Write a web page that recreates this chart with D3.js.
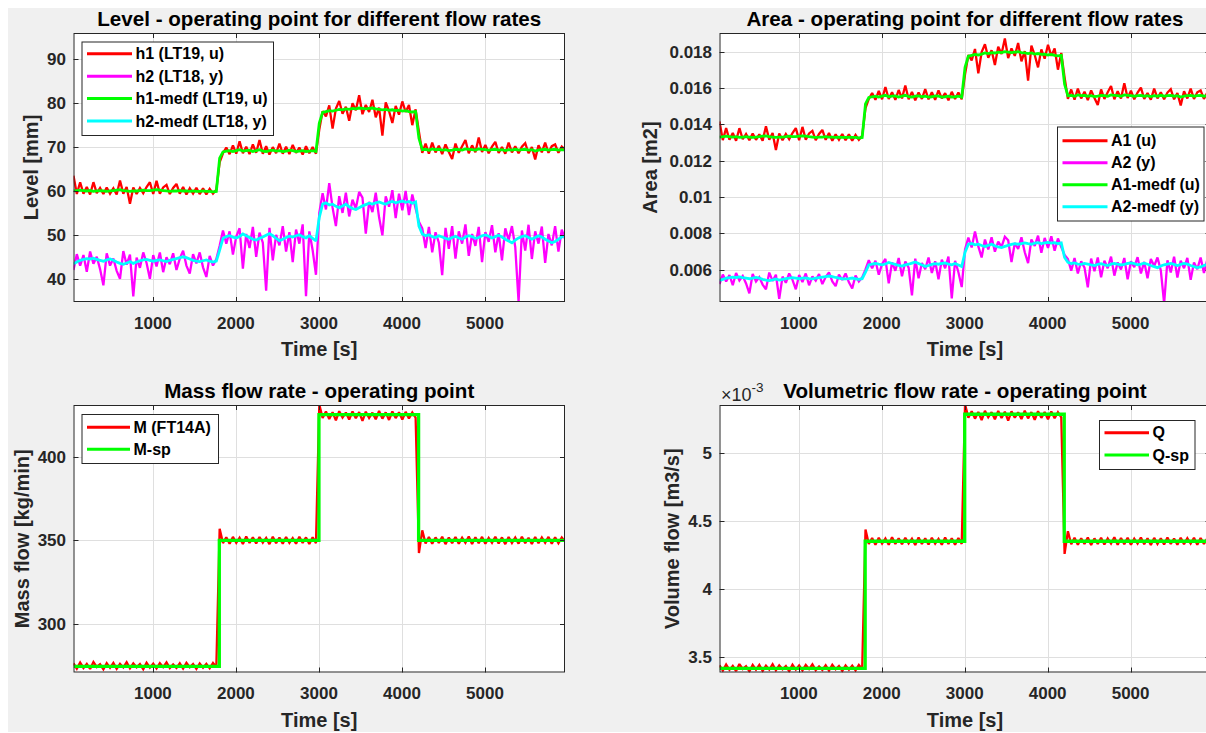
<!DOCTYPE html>
<html>
<head>
<meta charset="utf-8">
<script src="https://cdn.jsdelivr.net/npm/d3@7"></script>
<style>
  html, body { margin: 0; padding: 0; background: #ffffff; }
  svg { display: block; }
  text { font-family: "Liberation Sans", Arial, Helvetica, sans-serif; }
</style>
</head>
<body>
<svg id="fig" width="1206" height="733"></svg>
<script>
// ---- sample times of the logged signals (s) ----
const sampleTime = d3.range(44, 5965, 40);

// ---- tank levels (mm) ----
const h1Level = [
  63.5,59.3,62.0,59.4,60.9,59.2,62.0,59.5,60.7,59.3,
  60.8,59.4,60.6,59.2,62.4,59.4,60.9,57.1,60.8,59.3,
  60.7,59.5,60.9,62.0,59.3,62.3,59.4,60.8,61.4,59.3,
  60.7,61.6,59.4,60.9,59.2,60.6,59.4,60.7,59.3,60.6,
  59.2,60.5,59.4,60.3,
  66.5,68.6,69.9,68.4,70.4,68.5,71.3,68.6,70.1,68.4,
  70.6,68.7,71.6,68.5,70.2,68.3,70.0,68.6,70.8,68.5,
  70.1,68.4,70.5,68.7,69.9,68.3,70.2,68.6,70.0,68.5,
  74.0,78.2,77.0,79.5,74.2,78.8,80.5,77.6,79.2,76.0,
  80.0,78.4,81.8,77.5,79.6,78.0,80.8,76.8,79.0,72.6,
  80.2,78.2,75.5,79.4,77.4,80.4,78.0,79.6,75.0,78.6,
  73.5,68.7,70.8,68.5,71.0,68.8,70.3,68.4,70.6,68.9,
  67.3,70.8,68.7,70.2,71.6,68.6,70.4,68.8,72.2,68.9,
  70.5,68.6,70.1,71.2,68.7,70.0,68.5,71.0,68.8,70.2,
  68.6,70.1,70.9,68.6,70.0,67.2,70.4,68.8,71.0,68.7,
  70.2,70.6,68.7,70.1,69.4
];
const h2Level = [
  42.0,45.6,43.0,45.4,41.6,46.2,43.4,45.0,42.2,38.5,
  45.8,43.0,44.6,41.8,40.0,46.3,43.2,45.5,36.0,44.8,
  42.5,46.0,43.6,40.0,45.4,42.8,46.0,41.5,44.9,43.3,
  45.8,42.0,44.6,46.4,43.0,41.2,45.6,43.5,46.0,42.6,
  40.4,45.2,43.0,44.5,
  47.5,51.0,48.0,50.8,45.5,49.6,51.5,42.3,50.2,47.0,
  51.8,45.0,50.5,48.2,37.3,51.6,44.2,50.0,47.6,52.0,
  46.2,50.6,43.8,51.2,48.0,52.4,36.0,50.8,46.5,40.9,
  55.0,59.5,55.8,61.8,56.2,52.0,58.8,55.0,59.6,54.2,
  58.0,56.0,59.8,58.5,50.3,57.5,55.2,59.6,54.0,49.9,
  58.8,56.4,60.2,53.8,59.4,55.6,60.0,54.5,59.2,56.0,
  53.0,51.5,47.0,51.8,46.0,50.6,48.2,40.8,51.6,46.8,
  52.0,44.6,50.8,48.0,52.4,45.2,50.2,47.5,51.8,43.8,
  50.6,48.4,52.2,46.0,50.4,44.2,51.5,48.8,52.0,47.2,
  34.7,51.0,46.4,52.3,44.5,50.8,48.0,51.9,43.6,50.2,
  47.6,52.0,46.2,51.2,49.0
];
// median-filtered levels (mm)
const h1Medf = [
  60.0,60.1,60.2,60.1,60.0,60.1,59.9,60.0,60.1,60.0,
  59.9,60.0,60.1,60.2,60.3,60.1,60.0,59.9,60.0,60.0,
  60.1,60.2,60.1,60.1,60.2,60.3,60.2,60.1,60.0,59.9,
  60.0,60.0,60.1,60.0,60.0,59.9,60.0,59.9,59.9,60.0,
  59.9,59.9,59.8,59.9,
  67.5,68.9,69.1,69.2,69.0,69.2,69.4,69.1,69.2,69.3,
  69.0,69.2,69.4,69.1,69.0,69.2,69.3,69.1,69.2,69.0,
  69.1,69.3,69.2,69.0,69.1,69.2,69.0,69.1,69.2,69.0,
  75.5,77.9,78.1,78.3,78.2,78.4,78.6,78.5,78.7,78.6,
  78.8,78.7,78.9,78.8,78.7,78.8,78.9,78.7,78.6,78.5,
  78.6,78.4,78.5,78.3,78.4,78.2,78.3,78.1,78.0,78.1,
  72.0,69.4,69.5,69.3,69.6,69.4,69.5,69.3,69.4,69.2,
  69.3,69.5,69.4,69.3,69.6,69.5,69.4,69.3,69.6,69.5,
  69.4,69.3,69.4,69.5,69.3,69.4,69.2,69.4,69.3,69.5,
  69.3,69.4,69.5,69.3,69.4,69.1,69.3,69.4,69.5,69.3,
  69.4,69.5,69.3,69.4,69.3
];
const h2Medf = [
  43.4,43.8,44.2,44.4,44.6,44.5,44.7,44.4,44.2,44.0,
  44.3,44.5,44.2,43.8,43.5,43.3,43.6,43.9,43.5,43.8,
  44.1,44.3,44.4,44.2,44.0,44.2,44.3,44.1,43.9,44.2,
  44.4,44.6,44.8,45.0,44.8,44.5,44.2,44.0,43.9,44.1,
  44.3,44.0,43.8,44.0,
  46.5,49.2,49.6,49.8,49.5,49.3,49.6,50.2,49.8,49.4,
  49.0,48.8,49.2,49.5,49.9,50.3,49.8,49.2,48.7,49.0,
  49.4,49.7,49.5,49.8,50.0,49.6,49.3,49.8,49.2,48.6,
  54.0,57.0,57.3,56.8,57.0,56.5,56.2,56.6,57.0,56.4,
  56.0,55.8,56.2,56.6,56.9,57.2,57.0,57.3,57.5,57.2,
  57.0,57.4,57.6,57.3,57.5,57.7,57.4,57.6,57.2,57.5,
  52.0,50.2,49.8,50.0,49.6,49.4,49.8,49.5,49.2,49.0,
  49.4,49.7,49.3,49.0,49.5,49.8,49.6,49.2,49.4,49.8,
  50.0,49.7,49.3,49.6,49.9,49.5,49.0,48.6,48.2,48.8,
  49.3,49.6,49.8,49.4,49.0,49.4,49.8,49.5,49.0,48.6,
  48.2,48.5,49.0,49.5,49.8
];

// ---- cross-section areas (m2) ----
const a1Area = [
  0.01416,0.01313,0.01379,0.01315,0.01352,0.01310,0.01379,0.01318,0.01347,0.01313,
  0.01350,0.01315,0.01345,0.01310,0.01389,0.01315,0.01352,0.01259,0.01350,0.01313,
  0.01347,0.01318,0.01352,0.01379,0.01313,0.01386,0.01315,0.01350,0.01364,0.01313,
  0.01347,0.01369,0.01315,0.01352,0.01310,0.01345,0.01315,0.01347,0.01313,0.01345,
  0.01310,0.01342,0.01315,0.01337,
  0.01489,0.01540,0.01572,0.01535,0.01584,0.01538,0.01606,0.01540,0.01577,0.01535,
  0.01589,0.01543,0.01614,0.01538,0.01579,0.01533,0.01575,0.01540,0.01594,0.01538,
  0.01577,0.01535,0.01587,0.01543,0.01572,0.01533,0.01579,0.01540,0.01575,0.01538,
  0.01676,0.01782,0.01752,0.01815,0.01681,0.01798,0.01841,0.01767,0.01808,0.01727,
  0.01828,0.01787,0.01873,0.01765,0.01818,0.01777,0.01848,0.01747,0.01803,0.01641,
  0.01833,0.01782,0.01714,0.01813,0.01762,0.01838,0.01777,0.01818,0.01701,0.01793,
  0.01658,0.01540,0.01592,0.01536,0.01597,0.01543,0.01580,0.01533,0.01587,0.01545,
  0.01506,0.01592,0.01540,0.01577,0.01611,0.01538,0.01582,0.01543,0.01626,0.01545,
  0.01585,0.01538,0.01575,0.01602,0.01540,0.01572,0.01536,0.01597,0.01543,0.01577,
  0.01538,0.01575,0.01594,0.01538,0.01572,0.01504,0.01582,0.01543,0.01597,0.01540,
  0.01577,0.01587,0.01540,0.01575,0.01558
];
const a2Area = [
  0.00521,0.00573,0.00535,0.00570,0.00515,0.00582,0.00541,0.00565,0.00524,0.00470,
  0.00576,0.00535,0.00559,0.00518,0.00492,0.00584,0.00538,0.00572,0.00440,0.00562,
  0.00528,0.00579,0.00544,0.00492,0.00570,0.00532,0.00579,0.00514,0.00563,0.00540,
  0.00576,0.00521,0.00559,0.00585,0.00535,0.00509,0.00573,0.00543,0.00579,0.00530,
  0.00497,0.00568,0.00535,0.00557,
  0.00601,0.00652,0.00608,0.00649,0.00572,0.00631,0.00659,0.00525,0.00640,0.00594,
  0.00664,0.00564,0.00645,0.00611,0.00458,0.00661,0.00553,0.00637,0.00602,0.00667,
  0.00582,0.00646,0.00547,0.00655,0.00608,0.00672,0.00442,0.00649,0.00586,0.00504,
  0.00711,0.00777,0.00722,0.00810,0.00728,0.00667,0.00766,0.00711,0.00778,0.00699,
  0.00755,0.00725,0.00781,0.00762,0.00642,0.00747,0.00714,0.00778,0.00696,0.00636,
  0.00766,0.00731,0.00787,0.00693,0.00775,0.00720,0.00784,0.00704,0.00772,0.00725,
  0.00681,0.00659,0.00594,0.00664,0.00579,0.00646,0.00611,0.00503,0.00661,0.00591,
  0.00667,0.00558,0.00649,0.00608,0.00672,0.00567,0.00640,0.00601,0.00664,0.00547,
  0.00646,0.00614,0.00669,0.00579,0.00643,0.00553,0.00659,0.00620,0.00667,0.00596,
  0.00414,0.00652,0.00585,0.00671,0.00557,0.00649,0.00608,0.00665,0.00544,0.00640,
  0.00602,0.00667,0.00582,0.00655,0.00623
];
const a1Medf = [
  0.01330,0.01332,0.01335,0.01332,0.01330,0.01332,0.01328,0.01330,0.01332,0.01330,
  0.01328,0.01330,0.01332,0.01335,0.01337,0.01332,0.01330,0.01328,0.01330,0.01330,
  0.01332,0.01335,0.01332,0.01332,0.01335,0.01337,0.01335,0.01332,0.01330,0.01328,
  0.01330,0.01330,0.01332,0.01330,0.01330,0.01328,0.01330,0.01328,0.01328,0.01330,
  0.01328,0.01328,0.01325,0.01328,
  0.01513,0.01548,0.01552,0.01555,0.01550,0.01555,0.01560,0.01552,0.01555,0.01557,
  0.01550,0.01555,0.01560,0.01552,0.01550,0.01555,0.01557,0.01552,0.01555,0.01550,
  0.01552,0.01557,0.01555,0.01550,0.01552,0.01555,0.01550,0.01552,0.01555,0.01550,
  0.01714,0.01775,0.01780,0.01785,0.01782,0.01787,0.01793,0.01790,0.01795,0.01793,
  0.01798,0.01795,0.01800,0.01798,0.01795,0.01798,0.01800,0.01795,0.01793,0.01790,
  0.01793,0.01787,0.01790,0.01785,0.01787,0.01782,0.01785,0.01780,0.01777,0.01780,
  0.01621,0.01558,0.01560,0.01555,0.01562,0.01558,0.01560,0.01555,0.01558,0.01553,
  0.01555,0.01560,0.01558,0.01555,0.01562,0.01560,0.01558,0.01555,0.01562,0.01560,
  0.01558,0.01555,0.01558,0.01560,0.01555,0.01558,0.01553,0.01558,0.01555,0.01560,
  0.01555,0.01558,0.01560,0.01555,0.01558,0.01550,0.01555,0.01558,0.01560,0.01555,
  0.01558,0.01560,0.01555,0.01558,0.01555
];
const a2Medf = [
  0.00541,0.00547,0.00553,0.00556,0.00559,0.00557,0.00560,0.00556,0.00553,0.00550,
  0.00554,0.00557,0.00553,0.00547,0.00543,0.00540,0.00544,0.00549,0.00543,0.00547,
  0.00551,0.00554,0.00556,0.00553,0.00550,0.00553,0.00554,0.00551,0.00549,0.00553,
  0.00556,0.00559,0.00562,0.00565,0.00562,0.00557,0.00553,0.00550,0.00549,0.00551,
  0.00554,0.00550,0.00547,0.00550,
  0.00586,0.00626,0.00631,0.00634,0.00630,0.00627,0.00631,0.00640,0.00634,0.00629,
  0.00623,0.00620,0.00626,0.00630,0.00636,0.00642,0.00634,0.00626,0.00618,0.00623,
  0.00629,0.00633,0.00630,0.00634,0.00637,0.00631,0.00627,0.00634,0.00626,0.00617,
  0.00696,0.00740,0.00744,0.00737,0.00740,0.00733,0.00728,0.00734,0.00740,0.00731,
  0.00725,0.00722,0.00728,0.00734,0.00739,0.00743,0.00740,0.00744,0.00747,0.00743,
  0.00740,0.00746,0.00749,0.00744,0.00747,0.00750,0.00746,0.00749,0.00743,0.00747,
  0.00667,0.00640,0.00634,0.00637,0.00631,0.00629,0.00634,0.00630,0.00626,0.00623,
  0.00629,0.00633,0.00627,0.00623,0.00630,0.00634,0.00631,0.00626,0.00629,0.00634,
  0.00637,0.00633,0.00627,0.00631,0.00636,0.00630,0.00623,0.00617,0.00611,0.00620,
  0.00627,0.00631,0.00634,0.00629,0.00623,0.00629,0.00634,0.00630,0.00623,0.00617,
  0.00611,0.00615,0.00623,0.00630,0.00634
];

// ---- mass flow (kg/min) ----
const massFlow = [
  276.8,273.6,277.2,274.0,276.4,273.4,277.5,274.6,276.2,273.2,
  276.9,274.1,277.0,273.5,276.5,274.3,277.4,273.8,276.7,274.4,
  276.3,273.3,277.1,274.2,276.6,273.7,276.9,274.5,277.3,273.9,
  276.1,274.0,276.8,273.6,277.0,274.4,276.4,273.5,276.7,274.2,
  276.5,273.8,277.0,274.6,
  357.0,348.4,351.9,348.0,352.1,348.6,351.6,347.9,352.3,348.5,
  351.8,348.2,352.0,348.7,351.5,347.8,352.2,348.4,351.7,348.1,
  352.0,348.6,351.4,348.0,352.2,348.5,351.8,347.9,351.9,348.4,
  431.0,423.0,426.8,422.4,426.4,421.6,427.0,423.2,426.2,422.0,
  426.9,422.8,426.5,421.2,426.7,423.0,426.1,422.2,427.1,422.6,
  426.3,421.8,426.8,422.9,426.4,422.1,426.6,422.7,426.2,423.2,
  342.5,356.0,348.2,352.0,348.0,351.8,348.5,352.2,347.8,351.7,
  348.4,352.0,348.1,351.6,348.6,352.3,347.9,351.9,348.3,352.1,
  348.0,351.5,348.6,352.2,348.2,351.8,347.8,352.0,348.5,351.7,
  348.1,352.2,348.4,351.6,347.9,352.0,348.3,351.8,348.6,352.1,
  348.0,351.9,348.4,351.7,349.2
];
// ---- volumetric flow (x 1e-3 m3/s) ----
const volFlow = [
  3.440,3.401,3.445,3.406,3.435,3.398,3.449,3.413,3.433,3.396,
  3.442,3.407,3.443,3.399,3.437,3.409,3.448,3.403,3.439,3.411,
  3.434,3.397,3.444,3.408,3.438,3.402,3.442,3.412,3.447,3.404,
  3.432,3.406,3.440,3.401,3.443,3.411,3.435,3.399,3.439,3.408,
  3.437,3.403,3.443,3.413,
  4.437,4.330,4.374,4.325,4.376,4.333,4.370,4.324,4.379,4.331,
  4.372,4.328,4.375,4.334,4.369,4.323,4.377,4.330,4.371,4.326,
  4.375,4.333,4.367,4.325,4.377,4.331,4.372,4.324,4.374,4.330,
  5.356,5.257,5.304,5.250,5.299,5.240,5.307,5.260,5.297,5.245,
  5.306,5.255,5.301,5.235,5.303,5.257,5.296,5.247,5.308,5.252,
  5.298,5.242,5.304,5.256,5.299,5.246,5.302,5.253,5.297,5.260,
  4.257,4.424,4.328,4.375,4.325,4.372,4.331,4.377,4.323,4.371,
  4.330,4.375,4.326,4.370,4.333,4.379,4.324,4.374,4.329,4.376,
  4.325,4.369,4.333,4.377,4.328,4.372,4.323,4.375,4.331,4.371,
  4.326,4.377,4.330,4.370,4.324,4.375,4.329,4.372,4.333,4.376,
  4.325,4.374,4.330,4.371,4.340
];

// ---- set-points (piecewise constant) ----
const spTime = [44, 1800, 3000, 4200, 5964];
const massSetpoint = [275, 350, 425, 350, 350];
const volSetpoint = [3.418, 4.350, 5.282, 4.350, 4.350];

// ---- axis limits and ticks ----
const timeLimits = [44, 5963];
const timeTicks = [1000, 2000, 3000, 4000, 5000];
const levelLimits = [34.7, 96.0];
const levelTicks = [40, 50, 60, 70, 80, 90];
const areaLimits = [0.00422, 0.01903];
const areaTicks = [0.006, 0.008, 0.01, 0.012, 0.014, 0.016, 0.018];
const massLimits = [271.3, 430.7];
const massTicks = [300, 350, 400];
const volLimits = [3.387, 5.35];
const volTicks = [3.5, 4, 4.5, 5];

const RED = "#ff0000", MAGENTA = "#ff00ff", GREEN = "#00ff00", CYAN = "#00ffff";
const INK = "#262626";
const FONT = '"Liberation Sans", Arial, Helvetica, sans-serif';

const svg = d3.select("#fig");
svg.append("rect").attr("x", 0).attr("y", 0).attr("width", 1206).attr("height", 733).attr("fill", "#ffffff");
svg.append("rect").attr("x", 8).attr("y", 8).attr("width", 1198).attr("height", 724).attr("fill", "#f0f0f0");

let clipCount = 0;
const fmtTick = d => String(+d.toFixed(6));

function drawPanel(p) {
  const g = svg.append("g");
  const x = d3.scaleLinear().domain(timeLimits).range([p.left, p.right]);
  const y = d3.scaleLinear().domain(p.yLimits).range([p.bottom, p.top]);
  const id = "clip" + (clipCount++);
  g.append("clipPath").attr("id", id)
    .append("rect").attr("x", p.left).attr("y", p.top)
    .attr("width", p.right - p.left).attr("height", p.bottom - p.top);

  g.append("rect").attr("x", p.left).attr("y", p.top)
    .attr("width", p.right - p.left).attr("height", p.bottom - p.top)
    .attr("fill", "#ffffff");

  // grid
  const grid = g.append("g").attr("clip-path", `url(#${id})`)
    .attr("stroke", "#dfdfdf").attr("stroke-width", 1);
  timeTicks.forEach(t => grid.append("line")
    .attr("x1", Math.round(x(t)) + 0.5).attr("x2", Math.round(x(t)) + 0.5)
    .attr("y1", p.top).attr("y2", p.bottom));
  p.yTicks.forEach(v => grid.append("line")
    .attr("x1", p.left).attr("x2", p.right)
    .attr("y1", Math.round(y(v)) + 0.5).attr("y2", Math.round(y(v)) + 0.5));

  // data
  const plot = g.append("g").attr("clip-path", `url(#${id})`);
  p.series.forEach(s => {
    const pts = s.time.map((t, i) => [t, s.values[i]]);
    const line = d3.line().x(d => x(d[0])).y(d => y(d[1]))
      .curve(s.step ? d3.curveStepAfter : d3.curveLinear);
    plot.append("path").attr("d", line(pts))
      .attr("fill", "none").attr("stroke", s.color)
      .attr("stroke-width", s.width).attr("stroke-linejoin", "miter")
      .attr("stroke-miterlimit", 2);
  });

  // box
  g.append("rect").attr("x", p.left + 0.5).attr("y", p.top + 0.5)
    .attr("width", p.right - p.left - 1).attr("height", p.bottom - p.top - 1)
    .attr("fill", "none").attr("stroke", INK).attr("stroke-width", 1);

  // tick marks (inside, all four sides)
  const tl = 5;
  const ticks = g.append("g").attr("stroke", INK).attr("stroke-width", 1);
  timeTicks.forEach(t => {
    const xx = Math.round(x(t)) + 0.5;
    ticks.append("line").attr("x1", xx).attr("x2", xx).attr("y1", p.bottom).attr("y2", p.bottom - tl);
    ticks.append("line").attr("x1", xx).attr("x2", xx).attr("y1", p.top).attr("y2", p.top + tl);
  });
  p.yTicks.forEach(v => {
    const yy = Math.round(y(v)) + 0.5;
    ticks.append("line").attr("x1", p.left).attr("x2", p.left + tl).attr("y1", yy).attr("y2", yy);
    ticks.append("line").attr("x1", p.right).attr("x2", p.right - tl).attr("y1", yy).attr("y2", yy);
  });

  // tick labels
  const tlab = g.append("g").attr("font-family", FONT).attr("font-size", 17)
    .attr("font-weight", "bold").attr("fill", INK);
  timeTicks.forEach(t => tlab.append("text").attr("x", x(t)).attr("y", p.bottom + 26.5)
    .attr("text-anchor", "middle").text(fmtTick(t)));
  p.yTicks.forEach(v => tlab.append("text").attr("x", p.left - 7.5).attr("y", y(v) + 6)
    .attr("text-anchor", "end").text(fmtTick(v)));

  // titles
  g.append("text").attr("x", (p.left + p.right) / 2).attr("y", p.top - 7.5)
    .attr("text-anchor", "middle").attr("font-family", FONT).attr("font-size", 20.6)
    .attr("font-weight", "bold").attr("fill", "#000000").text(p.title);
  g.append("text").attr("x", (p.left + p.right) / 2).attr("y", p.bottom + 54)
    .attr("text-anchor", "middle").attr("font-family", FONT).attr("font-size", 20)
    .attr("font-weight", "bold").attr("fill", INK).text("Time [s]");
  g.append("text")
    .attr("transform", `translate(${p.ylabelX},${(p.top + p.bottom) / 2}) rotate(-90)`)
    .attr("text-anchor", "middle").attr("dy", "0.36em")
    .attr("font-family", FONT).attr("font-size", 20)
    .attr("font-weight", "bold").attr("fill", INK).text(p.ylabel);

  // legend
  const L = p.legend;
  const lg = g.append("g");
  lg.append("rect").attr("x", L.x + 0.5).attr("y", L.y + 0.5)
    .attr("width", L.w).attr("height", L.h)
    .attr("fill", "#ffffff").attr("stroke", INK).attr("stroke-width", 1);
  L.items.forEach((it, i) => {
    const yy = L.y + L.first + i * L.step;
    lg.append("line").attr("x1", L.x + 5.5).attr("x2", L.x + 5.5 + L.lineLen)
      .attr("y1", yy).attr("y2", yy).attr("stroke", it.color).attr("stroke-width", 3);
    lg.append("text").attr("x", L.x + 5.5 + L.lineLen + 3.5).attr("y", yy + 5.5)
      .attr("font-family", FONT).attr("font-size", 16).attr("font-weight", "bold")
      .attr("fill", "#000000").text(it.label);
  });
  return { x, y, g };
}

// Level
drawPanel({
  left: 73.5, right: 565, top: 33, bottom: 302,
  yLimits: levelLimits, yTicks: levelTicks,
  title: "Level - operating point for different flow rates",
  ylabel: "Level [mm]", ylabelX: 31,
  series: [
    { time: sampleTime, values: h1Level, color: RED, width: 2.3 },
    { time: sampleTime, values: h2Level, color: MAGENTA, width: 2.3 },
    { time: sampleTime, values: h1Medf, color: GREEN, width: 2.8 },
    { time: sampleTime, values: h2Medf, color: CYAN, width: 2.8 }
  ],
  legend: { x: 81.5, y: 41.5, w: 191.5, h: 93.5, first: 12.3, step: 22.4, lineLen: 45,
    items: [
      { label: "h1 (LT19, u)", color: RED },
      { label: "h2 (LT18, y)", color: MAGENTA },
      { label: "h1-medf (LT19, u)", color: GREEN },
      { label: "h2-medf (LT18, y)", color: CYAN }
    ] }
});

// Area
drawPanel({
  left: 719.5, right: 1210.5, top: 33, bottom: 302,
  yLimits: areaLimits, yTicks: areaTicks,
  title: "Area - operating point for different flow rates",
  ylabel: "Area [m2]", ylabelX: 650,
  series: [
    { time: sampleTime, values: a1Area, color: RED, width: 2.3 },
    { time: sampleTime, values: a2Area, color: MAGENTA, width: 2.3 },
    { time: sampleTime, values: a1Medf, color: GREEN, width: 2.8 },
    { time: sampleTime, values: a2Medf, color: CYAN, width: 2.8 }
  ],
  legend: { x: 1057, y: 126.5, w: 146.5, h: 94, first: 14.2, step: 22, lineLen: 45,
    items: [
      { label: "A1 (u)", color: RED },
      { label: "A2 (y)", color: MAGENTA },
      { label: "A1-medf (u)", color: GREEN },
      { label: "A2-medf (y)", color: CYAN }
    ] }
});

// Mass flow
drawPanel({
  left: 73.5, right: 565, top: 405, bottom: 672.5,
  yLimits: massLimits, yTicks: massTicks,
  title: "Mass flow rate - operating point",
  ylabel: "Mass flow [kg/min]", ylabelX: 22,
  series: [
    { time: sampleTime, values: massFlow, color: RED, width: 2.3 },
    { time: spTime, values: massSetpoint, color: GREEN, width: 3.3, step: true }
  ],
  legend: { x: 81.5, y: 414, w: 136.5, h: 49, first: 13.3, step: 22, lineLen: 43,
    items: [
      { label: "M (FT14A)", color: RED },
      { label: "M-sp", color: GREEN }
    ] }
});

// Volumetric flow
drawPanel({
  left: 719.5, right: 1210.5, top: 405, bottom: 672.5,
  yLimits: volLimits, yTicks: volTicks,
  title: "Volumetric flow rate - operating point",
  ylabel: "Volume flow [m3/s]", ylabelX: 671.5,
  series: [
    { time: sampleTime, values: volFlow, color: RED, width: 2.3 },
    { time: spTime, values: volSetpoint, color: GREEN, width: 3.3, step: true }
  ],
  legend: { x: 1099, y: 420, w: 95.5, h: 49, first: 12.7, step: 22.3, lineLen: 44.5,
    items: [
      { label: "Q", color: RED },
      { label: "Q-sp", color: GREEN }
    ] }
});

// exponent marker of the volumetric axis
const expo = svg.append("text").attr("x", 721).attr("y", 401)
  .attr("font-family", FONT).attr("font-size", 18).attr("fill", INK);
expo.append("tspan").text("\u00d710");
expo.append("tspan").attr("dy", -9).attr("font-size", 13.5).text("-3");
</script>
</body>
</html>
